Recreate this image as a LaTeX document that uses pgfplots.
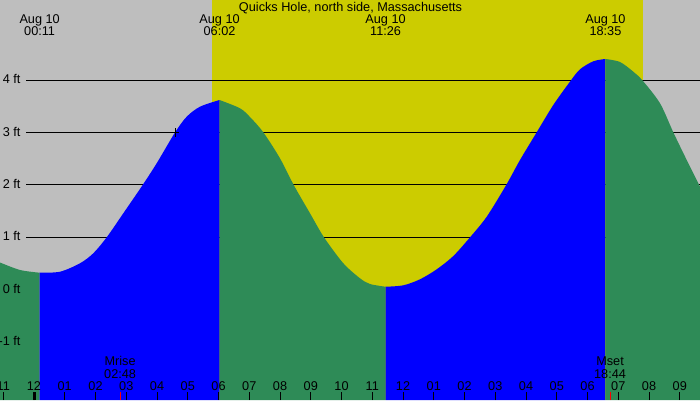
\documentclass[border=0pt]{standalone}
\usepackage{fontspec}
\setmainfont{Liberation Sans}
\usepackage{pgfplots}
\pgfplotsset{compat=1.18}

\definecolor{bggray}{RGB}{190,190,190}
\definecolor{dayyellow}{RGB}{204,204,0}
\definecolor{ebbgreen}{RGB}{46,139,87}
\definecolor{floodblue}{RGB}{0,0,255}
\newcommand\lbl{\fontsize{12.7}{14}\selectfont}
% axis limits: hours after midnight, feet
\def\xlo{-1.1057}\def\xhi{21.6585}\def\ylo{-2.1097}\def\yhi{5.5341}

\begin{document}
\begin{tikzpicture}
\begin{axis}[width=700pt, height=400pt, scale only axis, hide axis, set layers,
    xmin=\xlo, xmax=\xhi, ymin=\ylo, ymax=\yhi,
    tide/.style={draw=none, smooth, tension=0.5}]

  \coordinate (SW) at (rel axis cs:0,0);
  \coordinate (NE) at (rel axis cs:1,1);
  \begin{pgfonlayer}{axis background}
    \fill[bggray] (rel axis cs:0,0) rectangle (rel axis cs:1,1);
  \end{pgfonlayer}

  % daylight, sunrise 05:47 to sunset 19:48
  \addplot[draw=none, fill=dayyellow, on layer=axis background] coordinates
    {(5.789,\ylo) (5.789,\yhi) (19.805,\yhi) (19.805,\ylo)} -- cycle;

  % feet grid
  \pgfplotsinvokeforeach{1,2,3,4}{
    \addplot[black, line width=0.9pt, on layer=axis grid] coordinates {(-0.26,#1) (\xhi,#1)};
  }

  % tide height (ft) vs hours, falling = green, rising = blue
  \addplot[tide, fill=ebbgreen] coordinates {
    (-1.106,0.518) (-0.455,0.375) (0.183,0.323)
  } -- (axis cs:0.183,\ylo) -- (axis cs:-1.106,\ylo) -- cycle;
  \addplot[tide, fill=floodblue] coordinates {
    (0.183,0.323) (0.846,0.342) (1.496,0.503)
    (1.928,0.694) (2.364,0.999) (2.904,1.458) (3.522,1.989) (3.990,2.414)
    (4.585,3.002) (4.966,3.304) (5.398,3.495) (6.033,3.623)
  } -- (axis cs:6.033,\ylo) -- (axis cs:0.183,\ylo) -- cycle;
  \addplot[tide, fill=ebbgreen] coordinates {
    (6.033,3.623) (6.699,3.465)
    (7.024,3.298) (7.457,3.006) (7.999,2.509) (8.455,1.989) (8.976,1.458)
    (9.431,0.999) (10.059,0.503) (10.602,0.216) (10.927,0.107) (11.433,0.055)
  } -- (axis cs:11.433,\ylo) -- (axis cs:6.033,\ylo) -- cycle;
  \addplot[tide, fill=floodblue] coordinates {
    (11.433,0.055)
    (12.010,0.082) (12.553,0.197) (13.096,0.388) (13.636,0.642) (14.179,0.999)
    (14.722,1.393) (15.350,1.993) (15.805,2.477) (16.348,3.006) (16.888,3.528)
    (17.453,3.992) (17.756,4.210) (18.189,4.363) (18.583,4.407)
  } -- (axis cs:18.583,\ylo) -- (axis cs:11.433,\ylo) -- cycle;
  \addplot[tide, fill=ebbgreen] coordinates {
    (18.583,4.407) (19.057,4.349)
    (19.489,4.164) (19.795,3.992) (20.358,3.560) (20.790,3.006) (21.226,2.477)
    (21.659,1.966)
  } -- (axis cs:21.659,\ylo) -- (axis cs:18.583,\ylo) -- cycle;

  % now marker
  \addplot[only marks, mark=+, mark size=4.5pt, black, line width=0.8pt] coordinates {(4.585,3.0)};

  % feet labels
  \pgfplotsinvokeforeach{4,3,2,1,0,-1}{
    \node[anchor=base east, font=\lbl, yshift=-3.5pt] at (axis cs:-0.325,#1) {#1 ft};
  }

  % title and tide events
  \node[anchor=base, font=\lbl, yshift=-11.7pt] at (axis cs:10.293,\yhi) {Quicks Hole, north side, Massachusetts};
  \node[anchor=base, font=\lbl, yshift=-24pt] at (axis cs:0.1833,\yhi) {Aug 10};
  \node[anchor=base, font=\lbl, yshift=-36pt] at (axis cs:0.1833,\yhi) {00:11};
  \node[anchor=base, font=\lbl, yshift=-24pt] at (axis cs:6.0333,\yhi) {Aug 10};
  \node[anchor=base, font=\lbl, yshift=-36pt] at (axis cs:6.0333,\yhi) {06:02};
  \node[anchor=base, font=\lbl, yshift=-24pt] at (axis cs:11.4333,\yhi) {Aug 10};
  \node[anchor=base, font=\lbl, yshift=-36pt] at (axis cs:11.4333,\yhi) {11:26};
  \node[anchor=base, font=\lbl, yshift=-24pt] at (axis cs:18.5833,\yhi) {Aug 10};
  \node[anchor=base, font=\lbl, yshift=-36pt] at (axis cs:18.5833,\yhi) {18:35};

  % moon
  \node[anchor=base, font=\lbl, yshift=34.3pt] at (axis cs:2.8,\ylo) {Mrise};
  \node[anchor=base, font=\lbl, yshift=22pt] at (axis cs:2.8,\ylo) {02:48};
  \node[anchor=base, font=\lbl, yshift=34.3pt] at (axis cs:18.733,\ylo) {Mset};
  \node[anchor=base, font=\lbl, yshift=22pt] at (axis cs:18.733,\ylo) {18:44};

  % hour ticks
  \pgfplotsinvokeforeach{-1,...,21}{
    \draw[black, line width=1pt] (axis cs:#1,\ylo) -- ++(0pt,8pt);
  }
  \draw[black, line width=3pt] (axis cs:0,\ylo) -- ++(0pt,8pt);
  \draw[red, line width=1pt] (axis cs:2.8,\ylo) -- ++(0pt,8pt);
  \draw[red, line width=1pt] (axis cs:18.733,\ylo) -- ++(0pt,8pt);

  \foreach \h/\l in {-1/11,0/12,1/01,2/02,3/03,4/04,5/05,6/06,7/07,8/08,9/09,
      10/10,11/11,12/12,13/01,14/02,15/03,16/04,17/05,18/06,19/07,20/08,21/09}{
    \edef\tmp{\noexpand\node[anchor=base, font=\noexpand\lbl, yshift=10pt]
      at (axis cs:\h,\ylo) {\l};}
    \tmp
  }
\end{axis}
\pgfresetboundingbox
\useasboundingbox (SW) rectangle (NE);
\end{tikzpicture}
\end{document}
